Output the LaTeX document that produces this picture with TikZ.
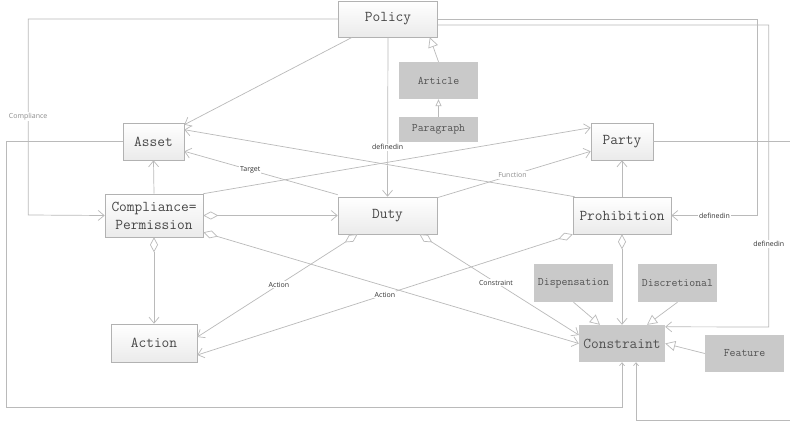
\documentclass[tikz,border=0pt]{standalone}
\usepackage{fontspec}
\setsansfont{Open Sans}
\usetikzlibrary{arrows.meta}
\begin{document}
\begin{tikzpicture}[x=1pt,y=-1pt,
  conn/.style={draw=black!27, line width=0.7pt},
  oarr/.style={-{Straight Barb[length=6pt,width=10pt]}},
  sarr/.style={-{Straight Barb[length=3pt,width=5pt]}},
  gen/.style={-{Triangle[fill=white,length=10pt,width=10pt]}},
  sgen/.style={-{Triangle[fill=white,length=7pt,width=6pt]}},
  agg/.style={{Diamond[fill=white,length=15pt,width=8pt]}-{Straight Barb[length=6pt,width=10pt]}},
  box/.style={draw=black!30, line width=0.6pt, top color=white, bottom color=black!8,
    inner sep=0pt, align=center, text=black!72, font=\ttfamily\fontsize{15}{18}\selectfont},
  gbox/.style={fill=black!21, draw=none, inner sep=0pt, text=black!68,
    font=\ttfamily\fontsize{11.5}{14}\selectfont},
  lbl/.style={font=\sffamily\fontsize{7}{8}\selectfont, text=black!80, fill=white, inner sep=1pt},
  glbl/.style={lbl, text=black!45}
]
\useasboundingbox[fill=white] (0,0) rectangle (790,422);

% nodes
\node[box, minimum width=99pt, minimum height=36pt] (policy) at (388,19) {Policy};
\node[gbox, minimum width=79pt, minimum height=37pt] (article) at (438.5,80.5) {Article};
\node[gbox, minimum width=79pt, minimum height=25pt] (paragraph) at (438.5,129.5) {Paragraph};
\node[box, minimum width=61pt, minimum height=37pt] (asset) at (153.5,141.5) {Asset};
\node[box, minimum width=62pt, minimum height=37pt] (party) at (622,141.5) {Party};
\node[box, minimum width=98pt, minimum height=43pt] (comp) at (154,215.5) {Compliance=\\Permission};
\node[box, minimum width=99pt, minimum height=37pt] (duty) at (387.5,215.5) {Duty};
\node[box, minimum width=98pt, minimum height=37pt] (prohib) at (622,215.5) {Prohibition};
\node[box, minimum width=86pt, minimum height=38pt] (action) at (154,343) {Action};
\node[gbox, minimum width=86pt, minimum height=37pt, font=\ttfamily\fontsize{15}{18}\selectfont] (constraint) at (622,343.5) {Constraint};
\node[gbox, minimum width=79pt, minimum height=38pt] (dispensation) at (573.5,283) {Dispensation};
\node[gbox, minimum width=79pt, minimum height=38pt] (discretional) at (677.5,283) {Discretional};
\node[gbox, minimum width=79pt, minimum height=37pt] (feature) at (744.5,353.5) {Feature};

% connectors from Policy
\draw[conn,oarr] ([xshift=14pt]policy.south west) -- ([yshift=-2pt]asset.north east);
\draw[conn,oarr] (policy.south) -- node[lbl,pos=0.69]{definedin} (duty.north);
\draw[conn,oarr] (policy.west) -- ++(-310,0) -- node[glbl]{Compliance} ++(0,196) -- (comp.west);
\draw[conn,oarr] (policy.east) -- ++(320,0) |- node[lbl,pos=0.75]{definedin} (prohib.east);
\draw[conn,oarr] ([yshift=-6pt]policy.east) -- ++(331,0) -- node[lbl,pos=0.725]{definedin} ++(0,302) -- ([yshift=-2pt]constraint.north east);

% generalisations
\draw[conn,gen] (article.north) -- ([xshift=-8pt]policy.south east);
\draw[conn,sgen] (paragraph.north) -- (article.south);
\draw[conn,gen] (dispensation.south) -- ([xshift=-22pt]constraint.north);
\draw[conn,gen] (discretional.south) -- ([xshift=25pt]constraint.north);
\draw[conn,gen] (feature.west) -- (constraint.east);

% long wrap-around lines to Constraint
\draw[conn,sarr] (asset.west) -- ++(-116,0) -- ++(0,266) -| (constraint.south);
\draw[conn,sarr] (party.east) -- ++(140,0) -- ++(0,278.5) -| ([xshift=14pt]constraint.south);

% associations
\draw[conn,oarr] (comp.north) -- (asset.south);
\draw[conn,oarr] (comp.north east) -- ([yshift=-5pt]party.north west);
\draw[conn,oarr] ([yshift=2pt]duty.north west) -- node[lbl,pos=0.57]{Target} ([yshift=9pt]asset.south east);
\draw[conn,oarr] ([xshift=2pt]prohib.north west) -- ([yshift=-7pt]asset.north east);
\draw[conn,oarr] ([yshift=-1pt]duty.north east) -- node[glbl,pos=0.49]{Function} ([yshift=9pt]party.south west);
\draw[conn,oarr] (prohib.north) -- (party.south);

% aggregations
\draw[conn,agg] (comp.east) -- (duty.west);
\draw[conn,agg] (comp.south) -- (action.north);
\draw[conn,agg] ([yshift=5pt]comp.south east) -- (constraint.west);
\draw[conn,agg] ([xshift=-30pt]duty.south) -- node[lbl,pos=0.49]{Action} ([yshift=6pt]action.east);
\draw[conn,agg] (prohib.south west) -- node[lbl,pos=0.5]{Action} ([yshift=-12pt]action.east);
\draw[conn,agg] ([xshift=32pt]duty.south) -- node[lbl,pos=0.48]{Constraint} ([yshift=8.5pt]constraint.west);
\draw[conn,agg] (prohib.south) -- (constraint.north);
\end{tikzpicture}
\end{document}
